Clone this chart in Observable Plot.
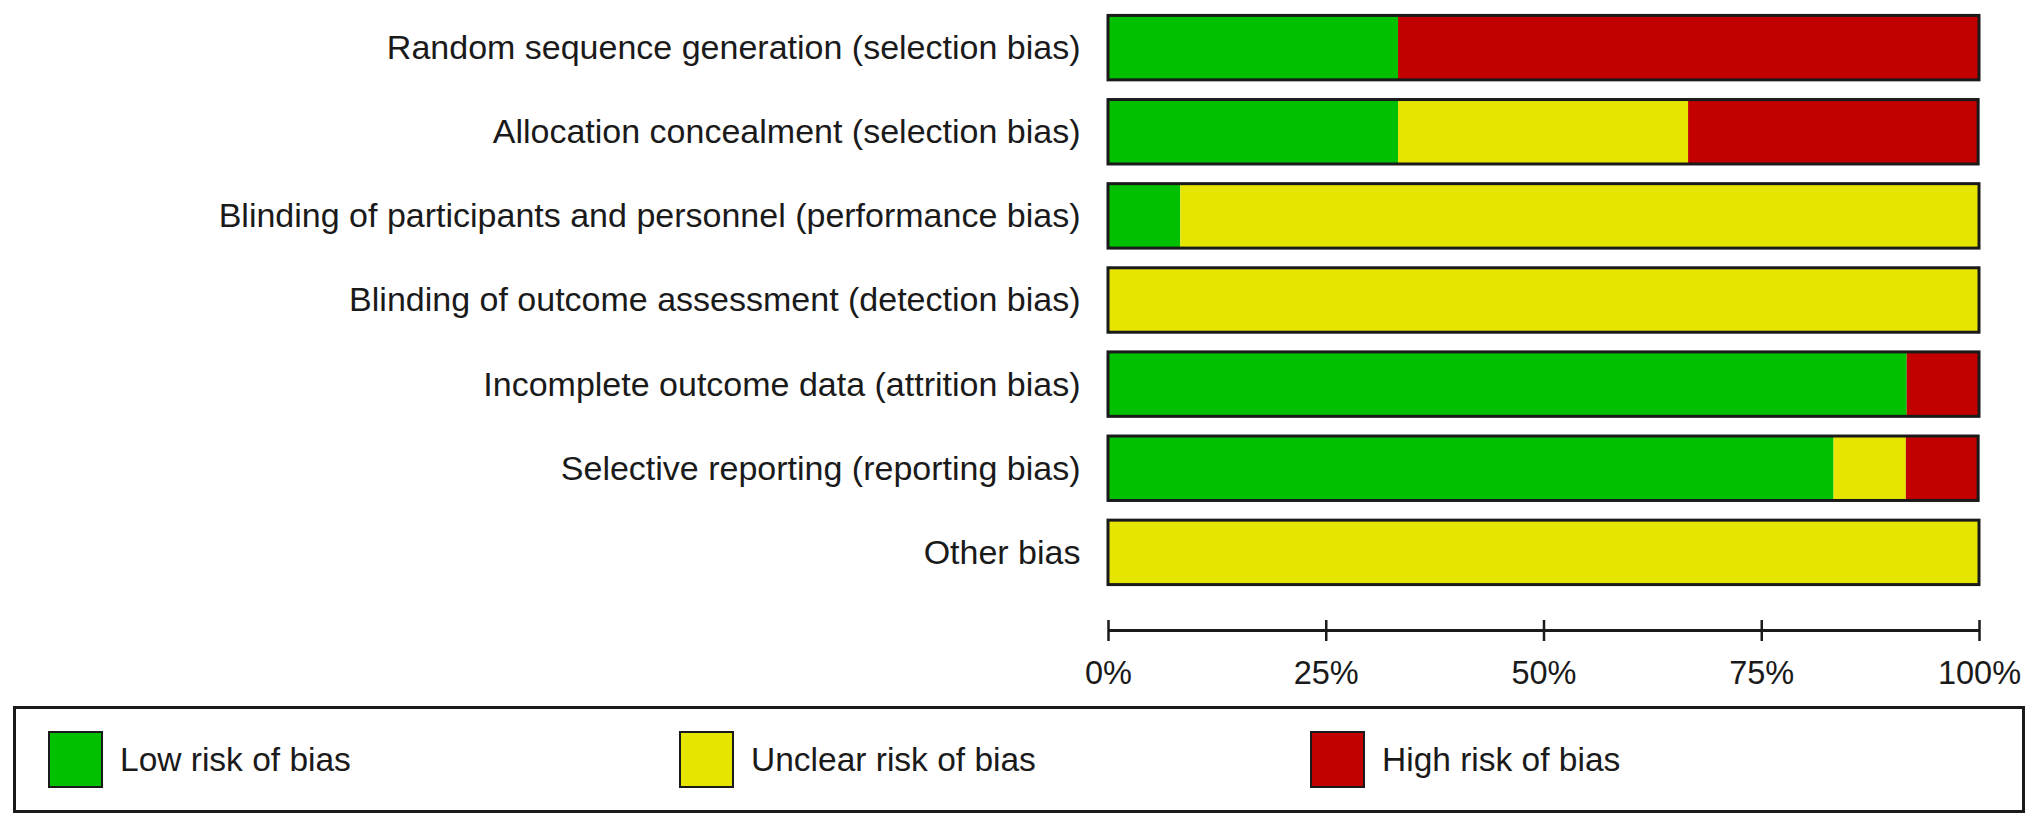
<!DOCTYPE html>
<html>
<head>
<meta charset="utf-8">
<script src="https://cdn.jsdelivr.net/npm/d3@7"></script>
<script src="https://cdn.jsdelivr.net/npm/@observablehq/plot@0.6"></script>
<style>
  html, body { margin: 0; padding: 0; background: #fff; }
  body { font-family: "Liberation Sans", Arial, Helvetica, sans-serif; color: #1a1a1a; }
  #legend {
    margin: 6px 0 0 13px; width: 1974px; height: 101px;
    border: 3px solid #1a1a1a; display: flex; align-items: center;
    padding-left: 32px; box-sizing: content-box;
  }
  #legend .item { display: flex; align-items: center; width: 631px; font-size: 33.5px; }
  #legend .sw { width: 51px; height: 53px; border: 2px solid #1a1a1a; margin-right: 17px; }
</style>
</head>
<body>
<div id="chart"></div>
<div id="legend"></div>
<script>
// ---- data ----
const categories = [
  "Random sequence generation (selection bias)",
  "Allocation concealment (selection bias)",
  "Blinding of participants and personnel (performance bias)",
  "Blinding of outcome assessment (detection bias)",
  "Incomplete outcome data (attrition bias)",
  "Selective reporting (reporting bias)",
  "Other bias"
];
const risks = ["Low risk of bias", "Unclear risk of bias", "High risk of bias"];
const riskColors = ["#00c000", "#e5e500", "#c20000"];
const lowRisk     = [33.3, 33.3,  8.3,   0, 91.7, 83.3,   0];
const unclearRisk = [   0, 33.3, 91.7, 100,    0,  8.3, 100];
const highRisk    = [66.7, 33.3,    0,   0,  8.3,  8.3,   0];
const xTicks = [0, 25, 50, 75, 100];

// ---- build table ----
const series = [lowRisk, unclearRisk, highRisk];
const table = [];
categories.forEach((c, i) => {
  risks.forEach((r, j) => table.push({category: c, risk: r, value: series[j][i]}));
});
const totals = categories.map((c, i) => ({category: c, total: lowRisk[i] + unclearRisk[i] + highRisk[i]}));

// ---- layout ----
const W = 2032, H = 700, mLeft = 1108, mRight = 53, mTop = 7, mBottom = 80;
const tickSize = 21;

const plot = Plot.plot({
  width: W, height: H,
  marginLeft: mLeft, marginRight: mRight, marginTop: mTop, marginBottom: mBottom,
  style: {fontFamily: "'Liberation Sans', Arial, Helvetica, sans-serif", color: "#1a1a1a", background: "#fff"},
  x: {domain: [0, 100], label: null},
  y: {domain: categories, range: [mTop, 593], paddingInner: 0.234, paddingOuter: 0.1, round: false, label: null},
  color: {domain: risks, range: riskColors},
  marks: [
    Plot.barX(table, Plot.stackX({x: "value", y: "category", fill: "risk", order: risks})),
    Plot.barX(totals, {x1: 0, x2: "total", y: "category", fill: "none", stroke: "#1a1a1a", strokeWidth: 3}),
    Plot.axisY({tickSize: 0, tickPadding: 28, fontSize: 34, label: null}),
    Plot.axisX({ticks: xTicks, tickFormat: d => d + "%", tickSize: tickSize, tickPadding: 19,
                fontSize: 32.5, strokeWidth: 2.5, label: null})
  ]
});

// horizontal axis line crossing the ticks, placed with the plot's own x scale
const xs = plot.scale("x");
const yLine = H - mBottom + tickSize / 2;
d3.select(plot).append("line")
  .attr("x1", xs.apply(xTicks[0])).attr("x2", xs.apply(xTicks[xTicks.length - 1]))
  .attr("y1", yLine).attr("y2", yLine)
  .attr("stroke", "#1a1a1a").attr("stroke-width", 3);

document.getElementById("chart").appendChild(plot);

// ---- legend ----
const legend = d3.select("#legend");
risks.forEach((r, j) => {
  const it = legend.append("div").attr("class", "item");
  it.append("div").attr("class", "sw").style("background", riskColors[j]);
  it.append("span").text(r);
});
</script>
</body>
</html>
